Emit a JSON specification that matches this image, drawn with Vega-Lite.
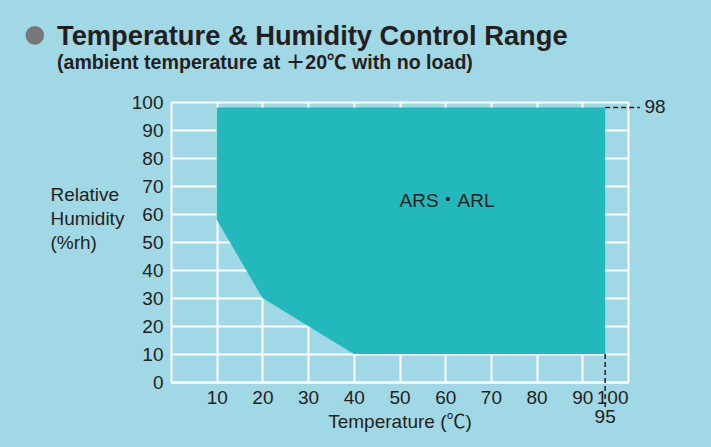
{
  "$schema": "https://vega.github.io/schema/vega-lite/v6.json",
  "width": 457,
  "height": 280,
  "autosize": {"type": "none"},
  "padding": {"left": 171, "top": 102, "right": 83, "bottom": 65},
  "background": "#A1D8E5",
  "title": {
    "text": "Temperature & Humidity Control Range",
    "subtitle": "(ambient temperature at ＋20℃ with no load)",
    "anchor": "start",
    "frame": "group",
    "dx": -114,
    "dy": 67,
    "font": "Liberation Sans",
    "fontSize": 27.3,
    "fontWeight": "bold",
    "color": "#231F20",
    "subtitleFont": "Liberation Sans, Noto Sans CJK JP",
    "subtitleFontSize": 19.6,
    "subtitleFontWeight": "bold",
    "subtitleColor": "#231F20",
    "subtitlePadding": 4,
    "offset": 20
  },
  "config": {
    "view": {"stroke": null},
    "font": "Liberation Sans",
    "axis": {
      "grid": true,
      "gridColor": "#FFFFFF",
      "gridWidth": 2,
      "gridOpacity": 1,
      "domainColor": "#FFFFFF",
      "domainWidth": 2,
      "ticks": false,
      "labelOverlap": false,
      "labelFontSize": 19,
      "labelColor": "#231F20",
      "labelFont": "Liberation Sans",
      "titleFont": "Liberation Sans, Noto Sans CJK JP",
      "titleFontSize": 19,
      "titleFontWeight": "normal",
      "titleColor": "#231F20",
      "zindex": 1
    }
  },
  "encoding": {
    "x": {"field": "x", "type": "quantitative", "scale": {"domain": [0, 100], "nice": false},
      "axis": {"values": [10, 20, 30, 40, 50, 60, 70, 80, 90, 100], "labelPadding": 6, "title": "Temperature (℃)", "titlePadding": 5}},
    "y": {"field": "y", "type": "quantitative", "scale": {"domain": [0, 100], "nice": false},
      "axis": {"values": [0, 10, 20, 30, 40, 50, 60, 70, 80, 90, 100], "labelPadding": 8,
        "title": ["Relative", "Humidity", "(%rh)"], "titleAngle": 0, "titleAlign": "left", "titleBaseline": "top",
        "titleX": -121, "titleY": 83, "titleLineHeight": 24}}
  },
  "layer": [
    {
      "data": {"values": [
        {"x": 10, "y": 98, "y2": 58},
        {"x": 20, "y": 98, "y2": 30},
        {"x": 30, "y": 98, "y2": 20},
        {"x": 40, "y": 98, "y2": 10},
        {"x": 95, "y": 98, "y2": 10}
      ]},
      "mark": {"type": "area", "color": "#22B8BC", "opacity": 1},
      "encoding": {"y2": {"field": "y2"}}
    },
    {
      "data": {"values": [{"x": 95, "y": 10, "y2": -9}]},
      "mark": {"type": "rule", "color": "#231F20", "strokeWidth": 1.5, "strokeDash": [5, 3]},
      "encoding": {"y2": {"field": "y2"}}
    },
    {
      "data": {"values": [{"x": 95, "x2": 102.6, "y": 98}]},
      "mark": {"type": "rule", "color": "#231F20", "strokeWidth": 1.5, "strokeDash": [5, 3]},
      "encoding": {"x2": {"field": "x2"}}
    },
    {
      "data": {"values": [{"x": 103.6, "y": 98.2, "label": "98"}]},
      "mark": {"type": "text", "fontSize": 19, "color": "#231F20", "baseline": "middle", "align": "left"},
      "encoding": {"text": {"field": "label"}}
    },
    {
      "data": {"values": [{"x": 95, "y": -12.5, "label": "95"}]},
      "mark": {"type": "text", "fontSize": 19, "color": "#231F20", "baseline": "middle", "align": "center"},
      "encoding": {"text": {"field": "label"}}
    },
    {
      "data": {"values": [{"x": 60.4, "y": 64.6, "label": "ARS・ARL"}]},
      "mark": {"type": "text", "fontSize": 19, "color": "#231F20", "baseline": "middle", "align": "center", "font": "Liberation Sans, Noto Sans CJK JP"},
      "encoding": {"text": {"field": "label"}}
    },
    {
      "data": {"values": [{"x": -29.8, "y": 123.8}]},
      "mark": {"type": "point", "filled": true, "size": 346, "color": "#777777", "opacity": 1}
    }
  ]
}
